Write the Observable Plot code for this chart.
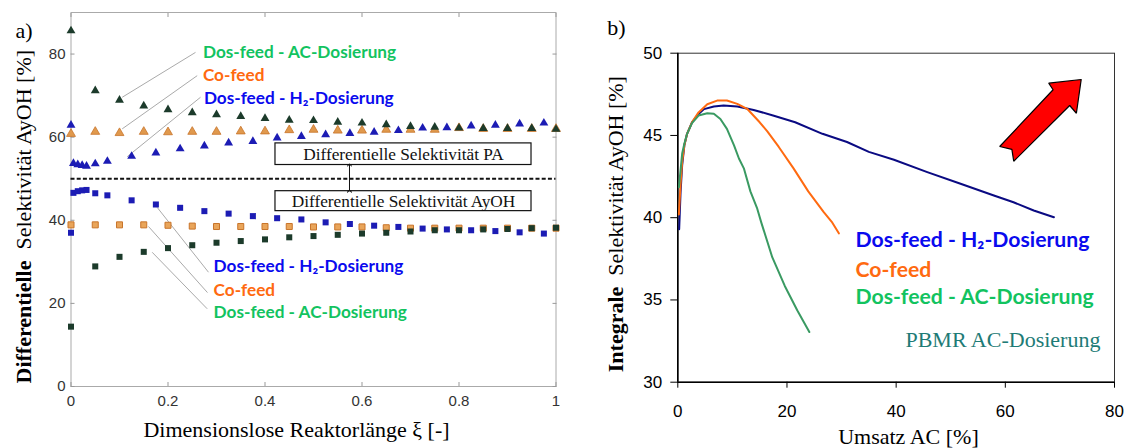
<!DOCTYPE html>
<html><head><meta charset="utf-8">
<script src="https://cdn.jsdelivr.net/npm/d3@7"></script>
<script src="https://cdn.jsdelivr.net/npm/@observablehq/plot@0.6"></script>
<style>
body{margin:0;background:#fff;}
#wrap{position:relative;width:1125px;height:448px;overflow:hidden;background:#fff;}
#wrap > svg{position:absolute;top:0;}
</style></head><body><div id="wrap"></div>
<script>
// ===== Panel a) data =====
const xiCommon = [0,0.05,0.1,0.15,0.2,0.25,0.3,0.35,0.4,0.45,0.5,0.55,0.6,0.65,0.7,0.75,0.8,0.85,0.9,0.95,1];
const xiH2 = [0,0.005,0.014,0.023,0.032,0.05,0.075,0.125,0.175,0.225,0.275,0.325,0.375,0.425,0.475,0.525,0.575,0.625,0.675,0.725,0.775,0.825,0.875,0.925,0.975];
// Differential PA selectivity (triangles)
const acTri = [85.6,71.2,68.9,67.5,66.6,65.9,65.4,65.0,64.5,64.1,64.0,63.6,63.4,63.0,62.6,62.4,62.2,62.1,62.1,62.1,61.9];
const coTri = [60.8,61.3,61.0,61.3,61.2,61.3,61.3,61.4,61.4,61.7,61.8,61.6,61.6,61.8,61.8,61.8,62.2,62.0,62.0,62.0,62.0];
const h2Tri = [62.9,53.7,53.4,53.2,53.0,53.6,54.2,55.4,56.2,57.2,57.9,58.6,59.0,59.8,60.2,60.6,60.9,61.2,61.6,62.2,62.3,62.7,62.9,63.2,63.4];
// Differential AyOH selectivity (squares)
const acSq = [14.4,28.9,31.2,32.4,33.3,34.0,34.6,35.0,35.4,35.9,36.2,36.5,36.8,37.0,37.3,37.6,37.6,37.8,37.9,38.1,38.2];
const coSq = [38.9,38.9,38.9,38.9,38.8,38.6,38.5,38.5,38.5,38.5,38.4,38.4,38.4,38.2,38.1,38.1,38.1,38.1,38.1,38.1,38.1];
const h2Sq = [37.0,46.6,47.0,47.2,47.3,46.5,46.0,44.8,43.8,43.0,42.2,41.6,41.0,40.5,40.2,39.5,39.1,38.7,38.4,38.0,37.8,37.6,37.4,37.1,36.8];
const xiTicks = [0,0.2,0.4,0.6,0.8,1];
const xiTickLabels = ["0","0.2","0.4","0.6","0.8","1"];
const selATicks = [0,20,40,60,80];
const selATickLabels = ["0","20","40","60","80"];

// ===== Panel b) data =====
const h2X = [0.25,0.5,0.8,1.2,1.7,2.6,3.8,4.8,6.6,8.4,10.9,13.9,17.6,21.5,26.5,31.0,35.0,39.6,45.7,51.8,57.9,61.5,65.2,68.9];
const h2Y = [39.3,41.5,43.2,44.4,45.1,45.8,46.3,46.6,46.76,46.82,46.76,46.55,46.2,45.8,45.1,44.6,44.0,43.52,42.77,42.06,41.35,40.94,40.44,40.03];
const coX = [0.2,0.5,0.8,1.2,1.7,2.6,3.8,5.4,7.2,9.0,10.9,12.7,15.0,16.4,18.5,21.2,23.9,26.7,28.2,29.5];
const coY = [40.2,42.0,43.4,44.4,45.1,45.8,46.4,46.9,47.12,47.12,46.92,46.62,45.8,45.25,44.3,43.0,41.6,40.35,39.75,39.05];
const acX = [0.2,0.8,1.2,1.7,2.6,3.8,5.4,6.6,7.8,9.0,10.3,11.2,12.1,13.3,14.5,15.3,17.3,19.6,21.9,24.1];
const acY = [41.85,43.9,44.5,45.1,45.75,46.21,46.35,46.32,46.0,45.4,44.4,43.6,43.0,41.6,40.6,39.7,37.6,35.85,34.36,33.05];
const umsatzTicks = [0,20,40,60,80];
const umsatzTickLabels = ["0","20","40","60","80"];
const selBTicks = [30,35,40,45,50];
const selBTickLabels = ["30","35","40","45","50"];

// ===== labels =====
const nameAC = "Dos-feed - AC-Dosierung";
const nameCo = "Co-feed";
const nameH2 = "Dos-feed - H\u2082-Dosierung";

// ===== helpers =====
const ctx = document.createElement("canvas").getContext("2d");
function measure(txt, font){ ctx.font = font; return ctx.measureText(txt).width; }
const SERIF = "Liberation Serif";
const SANS = "Liberation Sans";
const CAL = "Lato";
const cGreen = "#12c35f", cOrange = "#ff6a10", cBlue = "#0a0aee";
const sizeA = 16 * 194 / measure(nameAC, `bold 16px ${CAL}`);
const sizeB = 16 * 239 / measure(nameAC, `bold 16px ${CAL}`);

const tbl = (xs, ys) => xs.map((x, i) => ({x, y: ys[i]}));

// annotation positions (data units of panel a)
const topLabels = [
  {t: nameAC, c: cGreen, x: 0.272, y: 80.4},
  {t: nameCo, c: cOrange, x: 0.272, y: 74.8},
  {t: nameH2, c: cBlue, x: 0.274, y: 69.2}
];
const botLabels = [
  {t: nameH2, c: cBlue, x: 0.294, y: 28.9},
  {t: nameCo, c: cOrange, x: 0.294, y: 23.1},
  {t: nameAC, c: cGreen, x: 0.294, y: 17.9}
];
const leaders = [
  {x1: 0.2567, y1: 80.4, x2: 0.1056, y2: 69.6},
  {x1: 0.2602, y1: 74.8, x2: 0.1056, y2: 62.0},
  {x1: 0.267, y1: 69.6, x2: 0.1159, y2: 55.3},
  {x1: 0.1777, y1: 43.1, x2: 0.2835, y2: 27.5},
  {x1: 0.1598, y1: 38.5, x2: 0.2814, y2: 22.6},
  {x1: 0.1674, y1: 32.3, x2: 0.2808, y2: 18.7}
];
const boxes = [
  {t: "Differentielle Selektivität PA", x1: 0.4216, x2: 0.9495, y1: 53.3, y2: 58.5, ty: 55.9},
  {t: "Differentielle Selektivität AyOH", x1: 0.4216, x2: 0.9495, y1: 42.2, y2: 47.0, ty: 44.6}
];

// ===== Panel a =====
const boldA = measure("Differentielle", `bold 22px ${SERIF}`) + measure("  ", `22px ${SERIF}`);
const left = Plot.plot({
  width: 570, height: 448,
  marginLeft: 70.5, marginRight: 14.5, marginTop: 12, marginBottom: 62,
  x: {domain: [0, 1], label: null},
  y: {domain: [0, 90], label: null},
  style: {fontFamily: SANS, fontSize: "15px", color: "#333", background: "transparent", overflow: "visible"},
  marks: [
    Plot.frame({stroke: "#aaa"}),
    Plot.axisX(xiTicks, {anchor: "bottom", tickSize: -4, tickPadding: 12.6, stroke: "#999", tickFormat: d => xiTickLabels[xiTicks.indexOf(d)], label: null}),
    Plot.axisX(xiTicks, {anchor: "top", tickSize: -4, stroke: "#999", tickFormat: () => "", label: null}),
    Plot.axisY(selATicks, {anchor: "left", tickSize: -4, tickPadding: 9.5, stroke: "#999", tickFormat: d => selATickLabels[selATicks.indexOf(d)], label: null}),
    Plot.axisY(selATicks, {anchor: "right", tickSize: -4, stroke: "#999", tickFormat: () => "", label: null}),
    Plot.ruleY([50], {stroke: "#111", strokeWidth: 2, strokeDasharray: "4,2.2"}),
    Plot.link(leaders, {x1: "x1", y1: "y1", x2: "x2", y2: "y2", stroke: "#aaa", strokeWidth: 1}),
    Plot.dot(tbl(xiH2, h2Sq), {x: "x", y: "y", symbol: "square", r: 3.4, fill: "#1c1cb4"}),
    Plot.dot(tbl(xiCommon, coSq), {x: "x", y: "y", symbol: "square", r: 3.4, fill: "#e9a55a", stroke: "#c8742a", strokeWidth: 1}),
    Plot.dot(tbl(xiCommon, acSq), {x: "x", y: "y", symbol: "square", r: 3.4, fill: "#1c3b2b"}),
    Plot.dot(tbl(xiH2, h2Tri), {x: "x", y: "y", symbol: "triangle", r: 3.3, fill: "#1c1cb4"}),
    Plot.dot(tbl(xiCommon, coTri), {x: "x", y: "y", symbol: "triangle", r: 3.3, fill: "#e0994d", stroke: "#c8742a", strokeWidth: 0.8}),
    Plot.dot(tbl(xiCommon, acTri), {x: "x", y: "y", symbol: "triangle", r: 3.3, fill: "#1c3b2b"}),
    Plot.rect(boxes, {x1: "x1", x2: "x2", y1: "y1", y2: "y2", fill: "white", stroke: "#111", strokeWidth: 1.2}),
    Plot.text(boxes, {x: d => (d.x1 + d.x2) / 2, y: "ty", text: "t", fontFamily: SERIF, fontSize: 17.3, fill: "#111"}),
    Plot.link([{x: 0.5742, y1: 47.0, y2: 53.3}], {x1: "x", x2: "x", y1: "y1", y2: "y2", stroke: "#111", strokeWidth: 1, markerStart: "arrow", markerEnd: "arrow"}),
    Plot.text(topLabels, {x: "x", y: "y", text: "t", fill: "c", textAnchor: "start", fontFamily: CAL, fontWeight: "bold", fontSize: sizeA}),
    Plot.text(botLabels, {x: "x", y: "y", text: "t", fill: "c", textAnchor: "start", fontFamily: CAL, fontWeight: "bold", fontSize: sizeA}),
    Plot.text(["Differentielle"], {frameAnchor: "bottom-left", rotate: -90, textAnchor: "start", lineAnchor: "bottom", dx: -40.5, dy: -3, fontFamily: SERIF, fontWeight: "bold", fontSize: 22, fill: "#000"}),
    Plot.text(["Selektivität AyOH [%]"], {frameAnchor: "bottom-left", rotate: -90, textAnchor: "start", lineAnchor: "bottom", dx: -40.5, dy: -3 - boldA, fontFamily: SERIF, fontSize: 22, fill: "#000"}),
    Plot.text(["Dimensionslose Reaktorlänge ξ [-]"], {frameAnchor: "bottom", lineAnchor: "bottom", dx: -17, dy: 50.7, fontFamily: SERIF, fontSize: 22, fill: "#000"}),
    Plot.text(["a)"], {frameAnchor: "top-left", textAnchor: "start", lineAnchor: "bottom", dx: -55.5, dy: 25, fontFamily: SERIF, fontSize: 22, fill: "#000"})
  ]
});
left.style.left = "0px";

// ===== Panel b =====
const arrowShape = [
  {x: 73.9, y: 48.40}, {x: 67.95, y: 48.18}, {x: 68.75, y: 47.78}, {x: 58.97, y: 44.33},
  {x: 61.2, y: 44.15}, {x: 61.54, y: 43.43}, {x: 71.79, y: 46.82}, {x: 73.02, y: 46.35}, {x: 73.9, y: 48.40}
];
const rightLabels = [
  {t: nameH2, c: cBlue, y: 38.61},
  {t: nameCo, c: cOrange, y: 36.83},
  {t: nameAC, c: cGreen, y: 35.17}
];
const boldB = measure("Integrale", `bold 22px ${SERIF}`) + measure("  ", `22px ${SERIF}`);
const right = Plot.plot({
  width: 565, height: 448,
  marginLeft: 117.3, marginRight: 11, marginTop: 52.7, marginBottom: 66.3,
  x: {domain: [0, 80], label: null},
  y: {domain: [30, 50], label: null},
  style: {fontFamily: SANS, fontSize: "17px", color: "#000", background: "transparent", overflow: "visible"},
  marks: [
    Plot.frame({stroke: "#333", strokeWidth: 1}),
    Plot.ruleX([0], {stroke: "#000", strokeWidth: 1.6}),
    Plot.ruleY([30], {stroke: "#000", strokeWidth: 1.6}),
    Plot.axisX(umsatzTicks, {anchor: "bottom", tickSize: 6, tickPadding: 16.3, tickFormat: d => umsatzTickLabels[umsatzTicks.indexOf(d)], label: null}),
    Plot.axisY(selBTicks, {anchor: "left", tickSize: 7, tickPadding: 8.6, tickFormat: d => selBTickLabels[selBTicks.indexOf(d)], label: null}),
    Plot.line(tbl(h2X, h2Y), {x: "x", y: "y", stroke: "#0a0a82", strokeWidth: 2}),
    Plot.line(tbl(coX, coY), {x: "x", y: "y", stroke: "#ff6a10", strokeWidth: 2}),
    Plot.line(tbl(acX, acY), {x: "x", y: "y", stroke: "#3a9a62", strokeWidth: 2}),
    Plot.line(arrowShape, {x: "x", y: "y", fill: "#ff0000", stroke: "#000", strokeWidth: 1.2, strokeLinejoin: "miter"}),
    Plot.text(rightLabels, {x: 32.55, y: "y", text: "t", fill: "c", textAnchor: "start", fontFamily: CAL, fontWeight: "bold", fontSize: sizeB}),
    Plot.text(["PBMR AC-Dosierung"], {x: 41.7, y: 32.54, textAnchor: "start", fontFamily: SERIF, fontSize: 22, fill: "#1e7b76"}),
    Plot.text(["Integrale"], {frameAnchor: "bottom-left", rotate: -90, textAnchor: "start", lineAnchor: "bottom", dx: -55.3, dy: -10, fontFamily: SERIF, fontWeight: "bold", fontSize: 22, fill: "#000"}),
    Plot.text(["Selektivität AyOH [%]"], {frameAnchor: "bottom-left", rotate: -90, textAnchor: "start", lineAnchor: "bottom", dx: -55.3, dy: -10 - boldB, fontFamily: SERIF, fontSize: 22, fill: "#000"}),
    Plot.text(["Umsatz AC [%]"], {frameAnchor: "bottom", lineAnchor: "bottom", dx: 12.3, dy: 61.3, fontFamily: SERIF, fontSize: 22, fill: "#000"}),
    Plot.text(["b)"], {frameAnchor: "top-left", textAnchor: "start", lineAnchor: "bottom", dx: -70.6, dy: -18.7, fontFamily: SERIF, fontSize: 22, fill: "#000"})
  ]
});
right.style.left = "560px";

const wrap = document.getElementById("wrap");
wrap.appendChild(left);
wrap.appendChild(right);
</script></body></html>
